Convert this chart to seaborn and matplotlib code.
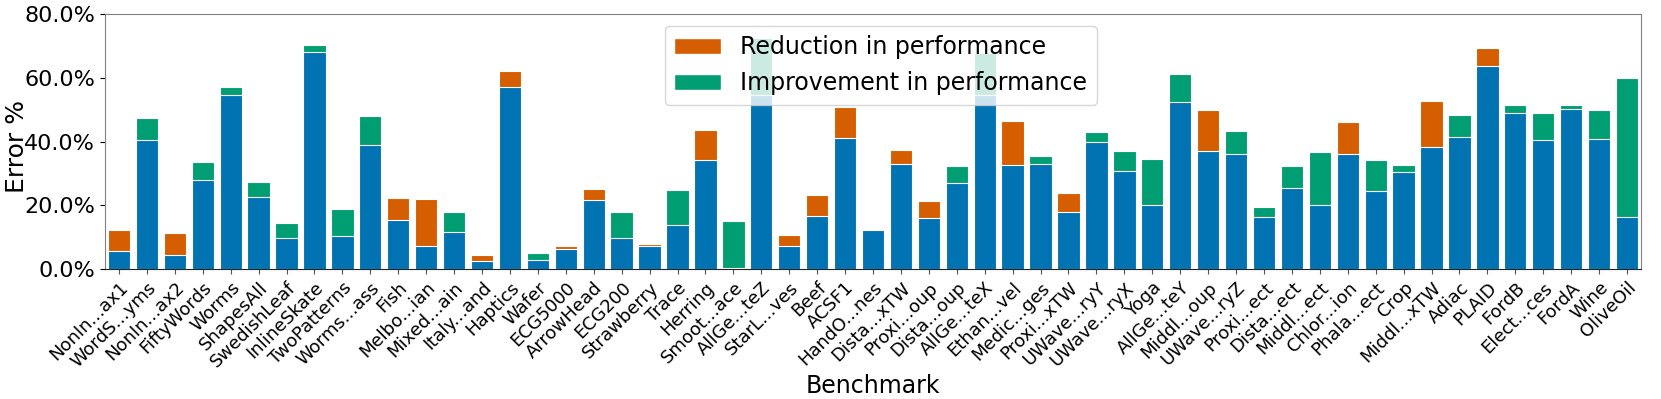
import numpy as np
import pandas as pd
import matplotlib
matplotlib.use("Agg")
import matplotlib.pyplot as plt
import seaborn as sns
from matplotlib.patches import Patch
from matplotlib.ticker import PercentFormatter

benchmarks = ["NonIn...ax1", "WordS...yms", "NonIn...ax2", "FiftyWords", "Worms", "ShapesAll",
              "SwedishLeaf", "InlineSkate", "TwoPatterns", "Worms...ass", "Fish", "Melbo...ian",
              "Mixed...ain", "Italy...and", "Haptics", "Wafer", "ECG5000", "ArrowHead", "ECG200",
              "Strawberry", "Trace", "Herring", "Smoot...ace", "AllGe...teZ", "StarL...ves", "Beef",
              "ACSF1", "HandO...nes", "Dista...xTW", "Proxi...oup", "Dista...oup", "AllGe...teX",
              "Ethan...vel", "Medic...ges", "Proxi...xTW", "UWave...ryY", "UWave...ryX", "Yoga",
              "AllGe...teY", "Middl...oup", "UWave...ryZ", "Proxi...ect", "Dista...ect", "Middl...ect",
              "Chlor...ion", "Phala...ect", "Crop", "Middl...xTW", "Adiac", "PLAID", "FordB",
              "Elect...ces", "FordA", "Wine", "OliveOil"]

# lower (blue) part of each bar, in %
base_error = [5.5, 40.6, 4.5, 27.8, 54.5, 22.7, 9.6, 68.2, 10.5, 38.9, 15.3, 7.1, 11.7, 2.5,
              57.2, 2.8, 6.2, 21.5, 9.7, 7.3, 13.8, 34.2, 0.4, 54.5, 7.1, 16.5, 41.0, 12.1,
              32.9, 16.0, 27.1, 54.5, 32.6, 33.0, 17.9, 39.8, 30.8, 20.2, 52.4, 37.0, 36.2,
              16.4, 25.3, 20.2, 36.2, 24.6, 30.5, 38.3, 41.5, 63.7, 48.8, 40.6, 50.3, 40.7, 16.4]

# full bar height, in %
top_error = [12.1, 47.4, 11.3, 33.6, 57.2, 27.4, 14.3, 70.4, 18.8, 48.0, 22.3, 22.0, 17.8, 4.3,
             62.1, 5.0, 7.1, 25.1, 17.8, 7.7, 24.9, 43.7, 15.2, 72.4, 10.8, 23.2, 50.9, 12.5,
             37.3, 21.3, 32.3, 67.8, 46.4, 35.5, 23.8, 43.0, 36.9, 34.5, 61.1, 50.0, 43.3,
             19.5, 32.2, 36.7, 46.0, 34.1, 32.5, 52.6, 48.3, 69.2, 51.5, 49.0, 51.5, 50.0, 60.0]

# R = reduction in performance, I = improvement in performance
change_type = ["R", "I", "R", "I", "I", "I", "I", "I", "I", "I", "R", "R", "I", "R",
               "R", "I", "R", "R", "I", "R", "I", "R", "I", "I", "R", "R", "R", "R",
               "R", "R", "I", "I", "R", "I", "R", "I", "I", "I", "I", "R", "I",
               "I", "I", "I", "R", "I", "I", "R", "I", "R", "I", "I", "I", "I", "I"]

legend_labels = {"R": "Reduction in performance", "I": "Improvement in performance"}

BLUE = "#0173B2"
ORANGE = "#D55E00"
GREEN = "#029E73"

df = pd.DataFrame({
    "Benchmark": benchmarks,
    "base": base_error,
    "top": top_error,
    "change": [legend_labels[c] for c in change_type],
})

W, H = 1661, 399
L, R, T, B = 105, 1641, 14, 269
fig = plt.figure(figsize=(W / 100, H / 100), dpi=100)
ax = fig.add_axes([L / W, 1 - B / H, (R - L) / W, (B - T) / H])

sns.barplot(data=df, x="Benchmark", y="top", hue="change", order=benchmarks,
            palette={legend_labels["R"]: ORANGE, legend_labels["I"]: GREEN},
            dodge=False, width=0.8, saturation=1, edgecolor="white", linewidth=0.8,
            legend=False, ax=ax)
sns.barplot(data=df, x="Benchmark", y="base", order=benchmarks, color=BLUE,
            width=0.8, saturation=1, edgecolor="white", linewidth=0.8, ax=ax)

ax.set_ylim(0, 80)
ax.set_xlim(-0.5, len(benchmarks) - 0.5)
ax.set_yticks([0, 20, 40, 60, 80])
ax.yaxis.set_major_formatter(PercentFormatter(xmax=100, decimals=1))
ax.tick_params(axis="y", labelsize=16)
ax.tick_params(axis="x", labelsize=13, colors="#555555", labelcolor="black")
plt.setp(ax.get_xticklabels(), rotation=45, ha="right", rotation_mode="anchor")
ax.set_xlabel("Benchmark", fontsize=17, labelpad=2)
ax.set_ylabel("Error %", fontsize=18)
ax.yaxis.set_label_coords((29 - L) / (R - L), 0.48)

for side in ["top", "right", "left"]:
    ax.spines[side].set_color("#808080")
ax.spines["bottom"].set_color("#222222")

handles = [Patch(facecolor=ORANGE, edgecolor="white", label=legend_labels["R"]),
           Patch(facecolor=GREEN, edgecolor="white", label=legend_labels["I"])]
ax.legend(handles=handles, loc="upper center", fontsize=17, framealpha=0.8,
          bbox_to_anchor=(0.505, 1.0))

fig.savefig("out.png", dpi=100)
